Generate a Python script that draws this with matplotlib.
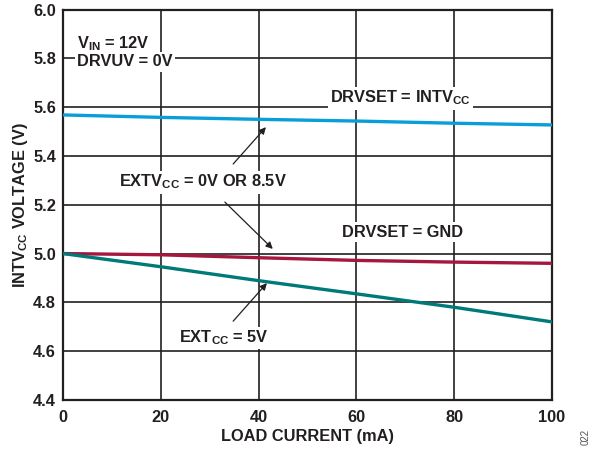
import matplotlib
matplotlib.use('Agg')
import matplotlib.pyplot as plt
from matplotlib.ticker import MultipleLocator

plt.rcParams['font.family'] = ['Liberation Sans', 'DejaVu Sans']
plt.rcParams['font.weight'] = 'bold'
plt.rcParams['axes.labelweight'] = 'bold'
plt.rcParams['mathtext.fontset'] = 'custom'
plt.rcParams['mathtext.rm'] = 'Liberation Sans:bold'
plt.rcParams['mathtext.it'] = 'Liberation Sans:bold'
plt.rcParams['mathtext.bf'] = 'Liberation Sans:bold'

# load current (mA) and INTVcc voltage (V) for each curve
load_current = [0, 20, 40, 60, 80, 100]
drvset_intvcc = [5.568, 5.558, 5.550, 5.543, 5.534, 5.527]
drvset_gnd = [5.000, 4.995, 4.983, 4.972, 4.965, 4.960]
extcc_5v = [5.000, 4.946, 4.889, 4.835, 4.780, 4.720]

txt_col = '#231f20'
fs = 11.8

fig = plt.figure(figsize=(5.92, 4.5), dpi=100)
ax = fig.add_axes([63/592, 50/450, 489/592, 390.5/450])
ax.set_xlim(0, 100)
ax.set_ylim(4.4, 6.0)
ax.xaxis.set_major_locator(MultipleLocator(20))
ax.yaxis.set_major_locator(MultipleLocator(0.2))
ax.yaxis.set_major_formatter(matplotlib.ticker.FormatStrFormatter('%.1f'))
ax.tick_params(length=0, pad=5, labelsize=fs, colors=txt_col)
ax.tick_params(axis='x', pad=7)
for s in ax.spines.values():
    s.set_linewidth(1.6)
    s.set_color(txt_col)
ax.grid(color=txt_col, linewidth=1.2)
ax.set_axisbelow(True)

ax.set_xlabel('LOAD CURRENT (mA)', fontsize=fs, color=txt_col, labelpad=3)
ax.set_ylabel(r'INTV$_{\mathrm{CC}}$ VOLTAGE (V)', fontsize=fs, color=txt_col, labelpad=2)

ax.plot(load_current, drvset_intvcc, color='#0a9ed8', linewidth=2.4, zorder=3)
ax.plot(load_current, drvset_gnd, color='#a5173f', linewidth=2.4, zorder=3)
ax.plot(load_current, extcc_5v, color='#007a78', linewidth=2.4, zorder=3)

box = dict(facecolor='white', edgecolor='none', pad=1.5)
ax.text(2.9, 5.859, r'V$_{\mathrm{IN}}$ = 12V', fontsize=fs, color=txt_col,
        va='center', ha='left', bbox=box)
ax.text(2.9, 5.785, 'DRVUV = 0V', fontsize=fs, color=txt_col,
        va='center', ha='left', bbox=box)
ax.text(69.0, 5.637, r'DRVSET = INTV$_{\mathrm{CC}}$', fontsize=fs, color=txt_col,
        va='center', ha='center', bbox=box)
ax.text(69.5, 5.088, 'DRVSET = GND', fontsize=fs, color=txt_col,
        va='center', ha='center', bbox=box)
ax.text(28.6, 5.293, r'EXTV$_{\mathrm{CC}}$ = 0V OR 8.5V', fontsize=fs, color=txt_col,
        va='center', ha='center', bbox=box)
ax.text(32.9, 4.654, r'EXT$_{\mathrm{CC}}$ = 5V', fontsize=fs, color=txt_col,
        va='center', ha='center', bbox=box)

arrow = dict(arrowstyle='-|>', color=txt_col, linewidth=0.9, mutation_scale=10,
             shrinkA=0, shrinkB=0)
ax.annotate('', xy=(41.5, 5.518), xytext=(34.8, 5.367), arrowprops=arrow, zorder=4)
ax.annotate('', xy=(42.9, 5.019), xytext=(33.1, 5.211), arrowprops=arrow, zorder=4)
ax.annotate('', xy=(41.7, 4.879), xytext=(34.8, 4.723), arrowprops=arrow, zorder=4)

fig.text(586/592, 1 - 437/450, '022', rotation=90, fontsize=7, fontweight='normal',
         color='#555555', ha='center', va='center')

fig.savefig('out.png', dpi=100)
